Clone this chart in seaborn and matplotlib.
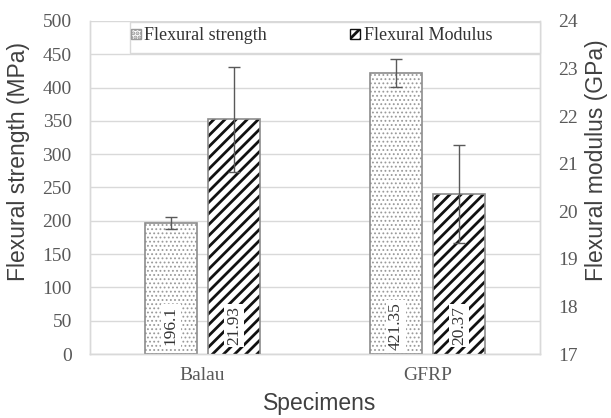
import matplotlib
matplotlib.use("Agg")
import matplotlib.pyplot as plt
from matplotlib.patches import Patch, Rectangle
from matplotlib.transforms import blended_transform_factory
import seaborn as sns
import pandas as pd

# Data
specimens = ["Balau", "GFRP"]
strength_mpa = [196.1, 421.35]
strength_sd = [9.0, 21.0]
modulus_gpa = [21.93, 20.37]
modulus_sd = [1.10, 1.03]
series = ["Flexural strength", "Flexural Modulus"]
left_ticks = list(range(0, 501, 50))
right_ticks = list(range(17, 25))

sns.set_theme(style="white")
plt.rcParams["font.family"] = ["Liberation Serif", "DejaVu Serif"]

df_s = pd.DataFrame({"Specimen": specimens, "value": strength_mpa, "Property": series[0]})
df_m = pd.DataFrame({"Specimen": specimens, "value": modulus_gpa, "Property": series[1]})

fig, ax = plt.subplots(figsize=(6.11, 4.18), dpi=100)
fig.subplots_adjust(left=0.147, right=0.884, top=0.95, bottom=0.153)
ax2 = ax.twinx()

grid_c = "#d9d9d9"
tick_c = "#595959"
label_c = "#404040"
dot_c = "#9a9a9a"
stripe_c = "#111111"
edge_c = "#8c8c8c"
sans = ["Liberation Sans", "DejaVu Sans"]

common = dict(x="Specimen", y="value", hue="Property", hue_order=series,
              order=specimens, width=0.56, gap=0.18, dodge=True, errorbar=None,
              legend=False, fill=True)

sns.barplot(data=df_s, ax=ax, **common)
sns.barplot(data=df_m, ax=ax2, **common)

ax.set_ylim(0, 500)
ax2.set_ylim(17, 24)
ax.set_xlim(-0.5, 1.5)

def style_bars(axis, hatch, hcolor, hlw):
    bars = [p for p in axis.patches if p.get_height() > 0]
    for p in bars:
        p.set_facecolor("white")
        p.set_edgecolor(hcolor)
        p.set_hatch(hatch)
        p.set_linewidth(0.0)
        if hasattr(p, "set_hatch_linewidth"):
            p.set_hatch_linewidth(hlw)
        p.set_zorder(2)
        outline = Rectangle((p.get_x(), p.get_y()), p.get_width(), p.get_height(),
                            fill=False, edgecolor=edge_c, linewidth=1.2, zorder=3)
        axis.add_patch(outline)
    return bars

plt.rcParams["hatch.linewidth"] = 0.8
s_bars = style_bars(ax, "....", dot_c, 0.8)
plt.rcParams["hatch.linewidth"] = 2.0
m_bars = style_bars(ax2, "///", stripe_c, 2.0)

s_bars = sorted(s_bars, key=lambda p: p.get_x())
m_bars = sorted(m_bars, key=lambda p: p.get_x())

# Error bars
sx = [p.get_x() + p.get_width() / 2 for p in s_bars]
mx = [p.get_x() + p.get_width() / 2 for p in m_bars]
ax.errorbar(sx, strength_mpa, yerr=strength_sd, fmt="none", ecolor="#595959",
            elinewidth=1.0, capsize=4, capthick=1.0, zorder=4)
ax2.errorbar(mx, modulus_gpa, yerr=modulus_sd, fmt="none", ecolor="#595959",
             elinewidth=1.0, capsize=4, capthick=1.0, zorder=4)

# Value labels near the base of each bar
for axis, xs, vals in ((ax, sx, strength_mpa), (ax2, mx, modulus_gpa)):
    tr = blended_transform_factory(axis.transData, axis.transAxes)
    for x, v in zip(xs, vals):
        axis.text(x, 0.085, str(v), transform=tr, rotation=90, ha="center", va="center",
                  fontsize=12.5, color="#333333", zorder=5,
                  bbox=dict(boxstyle="square,pad=0.12", facecolor="white", edgecolor="none"))

# Axes styling
ax.set_yticks(left_ticks)
ax2.set_yticks(right_ticks)
ax.yaxis.grid(True, color=grid_c, linewidth=1.0)
ax.set_axisbelow(True)
for a in (ax, ax2):
    for side, sp in a.spines.items():
        sp.set_color(grid_c)
        sp.set_linewidth(1.0)
    a.spines["top"].set_visible(False)
    a.tick_params(axis="y", length=0, labelsize=14, labelcolor=tick_c, pad=13)
ax.tick_params(axis="x", length=0, pad=9, labelsize=14, labelcolor=tick_c)

ax.set_xlabel("Specimens", family=sans, fontsize=16.5, color=label_c)
ax.set_ylabel("Flexural strength (MPa)", family=sans, fontsize=16.5, color=label_c)
ax2.set_ylabel("Flexural modulus (GPa)", family=sans, fontsize=16.5, color=label_c)
ax.xaxis.set_label_coords(0.511, -0.147)
ax.xaxis.label.set_va("center")
ax.yaxis.set_label_coords(-0.158, 0.577)
ax.yaxis.label.set_va("center")
ax2.yaxis.set_label_coords(1.125, 0.583)
ax2.yaxis.label.set_va("center")

# Legend: framed strip across the top of the plot area
frame = Rectangle((0.089, 0.904), 0.911, 0.093, transform=ax2.transAxes,
                  facecolor="white", edgecolor=grid_c, linewidth=1.0, zorder=9,
                  clip_on=False)
ax2.add_patch(frame)
handles = [
    Patch(facecolor="white", edgecolor=dot_c, hatch="....", label=series[0]),
    Patch(facecolor="white", edgecolor=stripe_c, hatch="///", label=series[1]),
]
leg = ax2.legend(handles=handles, ncol=2, loc="center left",
                 bbox_to_anchor=(0.083, 0.955), fontsize=13,
                 handlelength=0.55, handleheight=0.55, handletextpad=0.2,
                 columnspacing=4.6, frameon=False, borderpad=0.2, borderaxespad=0)
for t in leg.get_texts():
    t.set_color("#333333")
leg.set_zorder(10)

fig.savefig("out.png", dpi=100)
